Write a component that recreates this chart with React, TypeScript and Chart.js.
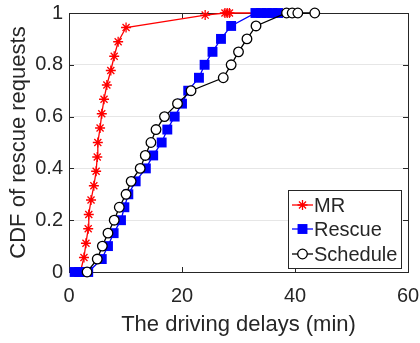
import React, { useEffect, useRef } from 'react';
import { Chart, registerables } from 'chart.js';
Chart.register(...registerables);

// ---- data ----
const mrX = [2.0, 2.65, 3.0, 3.4, 3.5, 3.9, 4.4, 4.8, 5.0, 5.1, 5.5, 5.8, 6.2, 6.7, 7.4, 8.0, 8.7, 10.1, 24.1, 27.6, 28.0, 28.4, 38.2];
const mrY = [0, 0.056, 0.111, 0.167, 0.222, 0.278, 0.333, 0.389, 0.444, 0.5, 0.556, 0.611, 0.667, 0.722, 0.778, 0.833, 0.889, 0.944, 0.992, 1, 1, 1, 1];

const rescueX = [1.0, 1.8, 2.6, 3.4, 5.8, 6.9, 7.9, 9.2, 9.8, 10.5, 11.8, 13.6, 14.9, 16.4, 17.4, 18.7, 20.0, 21.1, 23.0, 24.0, 25.4, 26.9, 28.7, 33.0, 34.0, 35.0, 36.0, 37.0];
const rescueY = [0, 0, 0, 0, 0.05, 0.1, 0.15, 0.2, 0.25, 0.3, 0.35, 0.4, 0.45, 0.5, 0.55, 0.6, 0.65, 0.7, 0.75, 0.8, 0.85, 0.9, 0.95, 1, 1, 1, 1, 1];

const scheduleX = [3.2, 5.0, 5.9, 6.9, 8.0, 8.9, 10.1, 11.0, 12.6, 13.5, 14.5, 15.4, 16.9, 19.2, 21.6, 27.3, 28.7, 30.0, 31.5, 33.1, 38.5, 39.5, 40.5, 43.5];
const scheduleY = [0, 0.05, 0.1, 0.15, 0.2, 0.25, 0.3, 0.35, 0.4, 0.45, 0.5, 0.55, 0.6, 0.65, 0.7, 0.75, 0.8, 0.85, 0.9, 0.95, 1, 1, 1, 1];

const xTicks = [0, 20, 40, 60];
const yTicks = [0, 0.2, 0.4, 0.6, 0.8, 1];
const seriesNames = ['MR', 'Rescue', 'Schedule'];

const FONT = "'Liberation Sans', Arial, sans-serif";
const TEXT = '#262626';

const toPts = (xs: number[], ys: number[]) => xs.map((x, i) => ({ x, y: ys[i] }));

const boxPlugin = {
  id: 'matlabBox',
  beforeDatasetsDraw(chart: any) {
    const { ctx, chartArea: a, scales } = chart;
    ctx.save();
    ctx.strokeStyle = TEXT;
    ctx.lineWidth = 1;
    ctx.strokeRect(a.left + 0.5, a.top + 0.5, a.right - a.left, a.bottom - a.top);
    ctx.beginPath();
    for (const v of xTicks) {
      const px = Math.round(scales.x.getPixelForValue(v)) + 0.5;
      ctx.moveTo(px, a.bottom); ctx.lineTo(px, a.bottom - 5);
      ctx.moveTo(px, a.top); ctx.lineTo(px, a.top + 5);
    }
    for (const v of yTicks) {
      const py = Math.round(scales.y.getPixelForValue(v)) + 0.5;
      ctx.moveTo(a.left, py); ctx.lineTo(a.left + 5, py);
      ctx.moveTo(a.right, py); ctx.lineTo(a.right - 5, py);
    }
    ctx.stroke();
    ctx.restore();
  },
  afterDraw(chart: any) {
    const { ctx } = chart;
    const bx = 288, by = 190, bw = 113, bh = 78;
    ctx.save();
    ctx.fillStyle = '#ffffff';
    ctx.fillRect(bx, by, bw, bh);
    ctx.strokeStyle = TEXT;
    ctx.lineWidth = 1;
    ctx.strokeRect(bx + 0.5, by + 0.5, bw, bh);
    const rows = [205, 229, 254];
    const cx = 302.5;
    chart.data.datasets.forEach((ds: any, i: number) => {
      const y = rows[i];
      ctx.strokeStyle = ds.borderColor;
      ctx.lineWidth = ds.borderWidth;
      ctx.beginPath();
      ctx.moveTo(292, y); ctx.lineTo(313, y);
      ctx.stroke();
      ctx.fillStyle = ds.pointBackgroundColor;
      ctx.strokeStyle = ds.pointBorderColor;
      ctx.lineWidth = ds.pointBorderWidth || ds.borderWidth;
      ctx.beginPath();
      const st = ds.pointStyle;
      const r = ds.pointRadius;
      if (st === 'circle') {
        ctx.arc(cx, y, r, 0, Math.PI * 2);
        ctx.fill(); ctx.stroke();
      } else if (st === 'rect') {
        const s = r / Math.SQRT2;
        ctx.fillRect(cx - s, y - s, 2 * s, 2 * s);
      } else {
        for (let k = 0; k < 4; k++) {
          const ang = (k * Math.PI) / 4;
          ctx.moveTo(cx + r * Math.cos(ang), y + r * Math.sin(ang));
          ctx.lineTo(cx - r * Math.cos(ang), y - r * Math.sin(ang));
        }
        ctx.stroke();
      }
      ctx.fillStyle = TEXT;
      ctx.font = `20px ${FONT}`;
      ctx.textBaseline = 'middle';
      ctx.textAlign = 'left';
      ctx.fillText(seriesNames[i], 314, y + 1);
    });
    ctx.restore();
  },
};

export default function App() {
  const ref = useRef<HTMLCanvasElement>(null);
  useEffect(() => {
    const canvas = ref.current!;
    const chart = new Chart(canvas, {
      type: 'scatter',
      data: {
        datasets: [
          {
            label: seriesNames[0],
            data: toPts(mrX, mrY),
            showLine: true,
            borderColor: '#ff0000',
            backgroundColor: '#ff0000',
            borderWidth: 1.3,
            pointStyle: 'star',
            pointRadius: 5,
            pointBorderColor: '#ff0000',
            pointBackgroundColor: '#ff0000',
            pointBorderWidth: 1.3,
            order: 2,
            clip: false,
          } as any,
          {
            label: seriesNames[1],
            data: toPts(rescueX, rescueY),
            showLine: true,
            borderColor: '#0000ff',
            backgroundColor: '#0000ff',
            borderWidth: 1.3,
            pointStyle: 'rect',
            pointRadius: 7,
            pointBorderColor: '#0000ff',
            pointBackgroundColor: '#0000ff',
            pointBorderWidth: 0,
            order: 1,
            clip: false,
          } as any,
          {
            label: seriesNames[2],
            data: toPts(scheduleX, scheduleY),
            showLine: true,
            borderColor: '#000000',
            backgroundColor: '#ffffff',
            borderWidth: 1.3,
            pointStyle: 'circle',
            pointRadius: 4.8,
            pointBorderColor: '#000000',
            pointBackgroundColor: '#ffffff',
            pointBorderWidth: 1.3,
            order: 0,
            clip: false,
          } as any,
        ],
      },
      options: {
        animation: false,
        responsive: false,
        maintainAspectRatio: false,
        layout: { padding: { top: 13, right: 12, left: 0, bottom: 0 } },
        plugins: { legend: { display: false }, tooltip: { enabled: false } },
        scales: {
          x: {
            type: 'linear',
            min: 0,
            max: 60,
            afterBuildTicks: (s: any) => { s.ticks = xTicks.map((v) => ({ value: v })); },
            afterFit: (s: any) => { s.height = 71; s.paddingLeft = 0; s.paddingRight = 0; },
            grid: { display: false, drawTicks: false },
            border: { display: false },
            ticks: { color: TEXT, font: { family: FONT, size: 20 }, padding: 12, maxRotation: 0 },
            title: {
              display: true,
              text: 'The driving delays (min)',
              color: TEXT,
              font: { family: FONT, size: 22 },
              padding: { top: 0, bottom: 5 },
            },
          },
          y: {
            type: 'linear',
            min: 0,
            max: 1,
            afterBuildTicks: (s: any) => { s.ticks = yTicks.map((v) => ({ value: v })); },
            afterFit: (s: any) => { s.width = 69; s.paddingTop = 0; s.paddingBottom = 0; },
            grid: { display: true, color: '#e6e6e6', drawTicks: false, lineWidth: 1 },
            border: { display: false },
            ticks: {
              color: TEXT,
              font: { family: FONT, size: 20 },
              padding: 6,
              callback: (v: any) => String(Math.round(Number(v) * 10) / 10),
            },
            title: {
              display: true,
              text: 'CDF of rescue requests',
              color: TEXT,
              font: { family: FONT, size: 22 },
              padding: { top: 6, bottom: 0 },
            },
          },
        },
      },
      plugins: [boxPlugin],
    });
    return () => chart.destroy();
  }, []);
  return (
    <div style={{ position: 'fixed', left: 0, top: 0, width: 420, height: 343, background: '#fff' }}>
      <canvas ref={ref} width={420} height={343} style={{ width: 420, height: 343, display: 'block' }} />
    </div>
  );
}
